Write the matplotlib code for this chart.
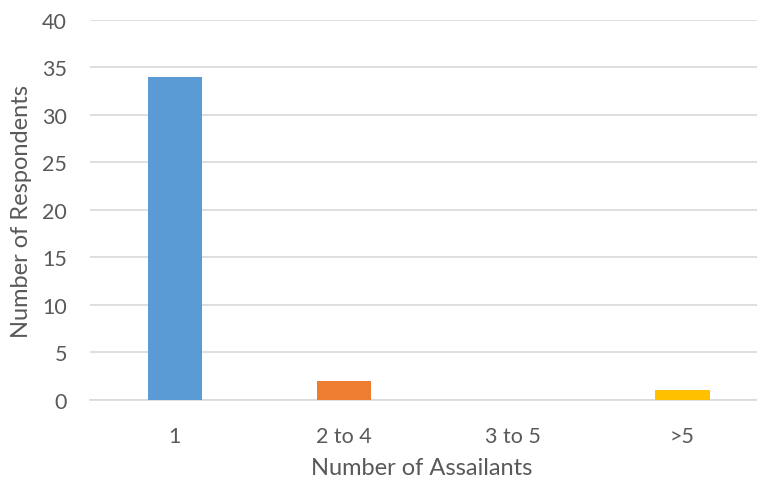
import matplotlib.pyplot as plt

# Respondents grouped by how many assailants were involved
categories = ['1', '2 to 4', '3 to 5', '>5']
respondents = [34, 2, 0, 1]
colors = ['#5B9BD5', '#ED7D31', '#A5A5A5', '#FFC000']

plt.rcParams['font.family'] = ['Lato', 'DejaVu Sans']
text_color = '#595959'

# plot area in pixels (figure is 757x485 at 100 dpi)
fig = plt.figure(figsize=(7.57, 4.85), dpi=100)
W, H = 757, 485
left, right, top, bottom = 90, 757, 20.7, 401
ax = fig.add_axes([left / W, (H - bottom) / H, (right - left) / W, (bottom - top) / H])

x = range(len(categories))
ax.bar(x, respondents, width=0.32, color=colors, zorder=3)

ax.set_xlim(-0.5, 3.44)
ax.set_ylim(0, 40)
ax.set_yticks(range(0, 41, 5))
ax.set_xticks(list(x))
ax.set_xticklabels(categories)

ax.yaxis.grid(True, color='#D9D9D9', linewidth=1.2, zorder=0)
for side in ['top', 'right', 'left']:
    ax.spines[side].set_visible(False)
ax.spines['bottom'].set_color('#D9D9D9')
ax.spines['bottom'].set_linewidth(1.2)

ax.tick_params(axis='both', length=0, labelsize=15.5, colors=text_color)
ax.tick_params(axis='y', pad=16.5)
ax.tick_params(axis='x', pad=19)

# axis titles, centred at fixed pixel positions
ax.set_xlabel('Number of Assailants', fontsize=17, color=text_color, va='center')
ax.set_ylabel('Number of Respondents', fontsize=17, color=text_color, va='center')
ax.xaxis.set_label_coords((422 - left) / (right - left), (bottom - 469) / (bottom - top))
ax.yaxis.set_label_coords((22 - left) / (right - left), (bottom - 212) / (bottom - top))

fig.savefig('out.png', dpi=100)
